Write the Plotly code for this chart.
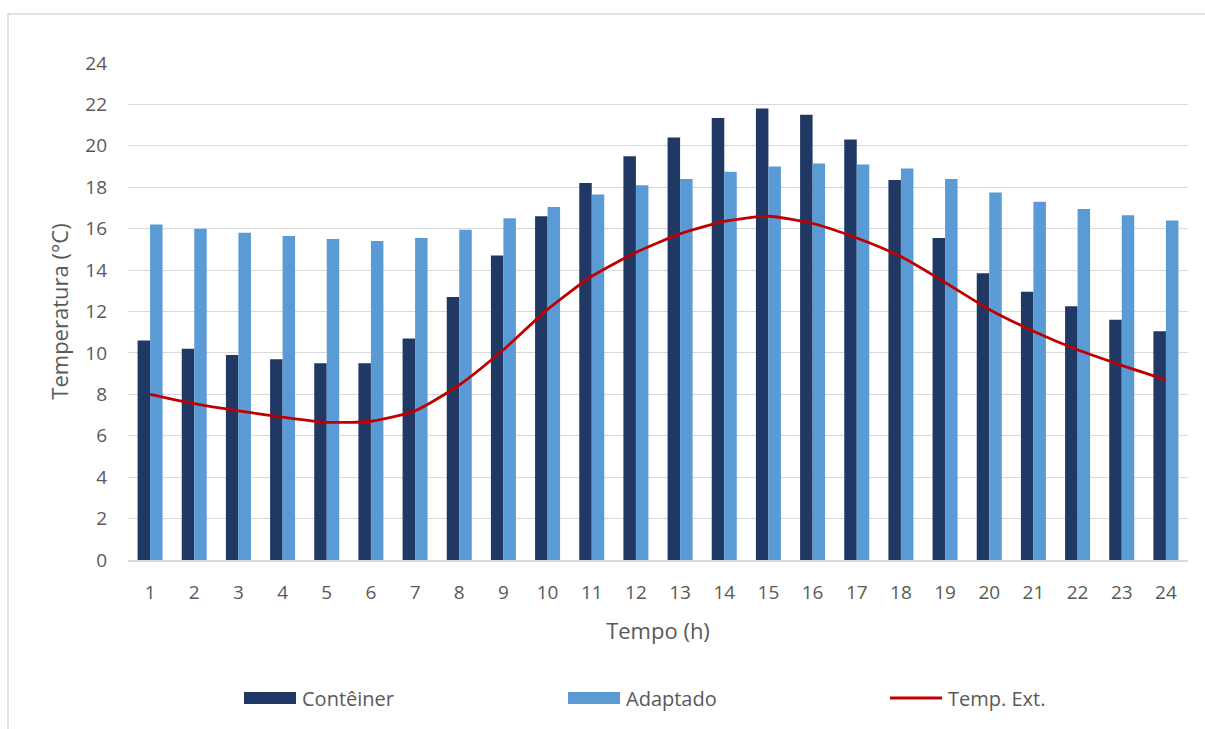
import plotly.graph_objects as go

# Hourly temperatures (°C)
hours = [str(h) for h in range(1, 25)]
conteiner = [10.6, 10.2, 9.9, 9.7, 9.5, 9.5, 10.7, 12.7, 14.7, 16.6, 18.2, 19.5,
             20.4, 21.35, 21.8, 21.5, 20.3, 18.35, 15.55, 13.85, 12.95, 12.25, 11.6, 11.05]
adaptado = [16.2, 16.0, 15.8, 15.65, 15.5, 15.4, 15.55, 15.95, 16.5, 17.05, 17.65, 18.1,
            18.4, 18.75, 19.0, 19.15, 19.1, 18.9, 18.4, 17.75, 17.3, 16.95, 16.65, 16.4]
temp_ext = [8.0, 7.55, 7.2, 6.9, 6.65, 6.7, 7.2, 8.45, 10.15, 12.1, 13.7, 14.85,
            15.75, 16.35, 16.6, 16.25, 15.55, 14.65, 13.4, 12.1, 11.05, 10.15, 9.4, 8.7]
y_ticks = list(range(0, 25, 2))

names = ["Contêiner", "Adaptado", "Temp. Ext."]
DARK, LIGHT, RED = "#203864", "#5B9BD5", "#C00000"
GRID, TEXT = "#D9D9D9", "#595959"
FONT = "Open Sans"

W, H = 1205, 729
L, R, T, B = 128, 17, 63, 169
PW, PH = W - L - R, H - T - B


def px_x(p):
    return (p - L) / PW


def px_y(p):
    return (H - B - p) / PH


fig = go.Figure()
fig.add_trace(go.Bar(x=hours, y=conteiner, name=names[0], marker_color=DARK,
                     marker_line_width=0, showlegend=False))
fig.add_trace(go.Bar(x=hours, y=adaptado, name=names[1], marker_color=LIGHT,
                     marker_line_width=0, showlegend=False))
fig.add_trace(go.Scatter(x=hours, y=temp_ext, name=names[2], mode="lines",
                         line=dict(color=RED, width=2.8, shape="spline", smoothing=0.6),
                         showlegend=False))

shapes = [
    # outer chart frame
    dict(type="rect", xref="paper", yref="paper",
         x0=px_x(8), x1=px_x(W + 10), y0=px_y(H + 10), y1=px_y(14),
         line=dict(color=GRID, width=1.5), fillcolor="rgba(0,0,0,0)", layer="below"),
]
annotations = []

# legend row
legend_items = [(244, DARK, "bar"), (568, LIGHT, "bar"), (890, RED, "line")]
ly = 698
for (x0, col, kind), label in zip(legend_items, names):
    if kind == "bar":
        shapes.append(dict(type="rect", xref="paper", yref="paper",
                           x0=px_x(x0), x1=px_x(x0 + 52), y0=px_y(ly + 6), y1=px_y(ly - 6),
                           fillcolor=col, line=dict(width=0)))
    else:
        shapes.append(dict(type="line", xref="paper", yref="paper",
                           x0=px_x(x0), x1=px_x(x0 + 52), y0=px_y(ly), y1=px_y(ly),
                           line=dict(color=col, width=2.8)))
    annotations.append(dict(xref="paper", yref="paper", x=px_x(x0 + 56), y=px_y(ly),
                            xanchor="left", yanchor="middle", showarrow=False, text=label,
                            font=dict(family=FONT, size=20, color=TEXT)))

fig.update_layout(
    width=W, height=H,
    margin=dict(l=L, r=R, t=T, b=B, pad=0),
    paper_bgcolor="white", plot_bgcolor="white",
    barmode="group", bargap=0.434, bargroupgap=0,
    font=dict(family=FONT, color=TEXT),
    shapes=shapes, annotations=annotations,
    xaxis=dict(
        type="category", showgrid=False, showline=True, linecolor=GRID, linewidth=1.5,
        ticks="", tickfont=dict(size=19, color=TEXT), ticklabelstandoff=14,
        title=dict(text="Tempo (h)", font=dict(size=22, color=TEXT), standoff=20),
    ),
    yaxis=dict(
        range=[0, 24], tickvals=y_ticks, showgrid=True, gridcolor=GRID, gridwidth=1.2,
        zeroline=False, showline=False, ticks="",
        tickfont=dict(size=19, color=TEXT), ticklabelstandoff=20,
        title=dict(text="Temperatura (°C)", font=dict(size=22, color=TEXT), standoff=10),
    ),
)

fig.write_html("out.html")
